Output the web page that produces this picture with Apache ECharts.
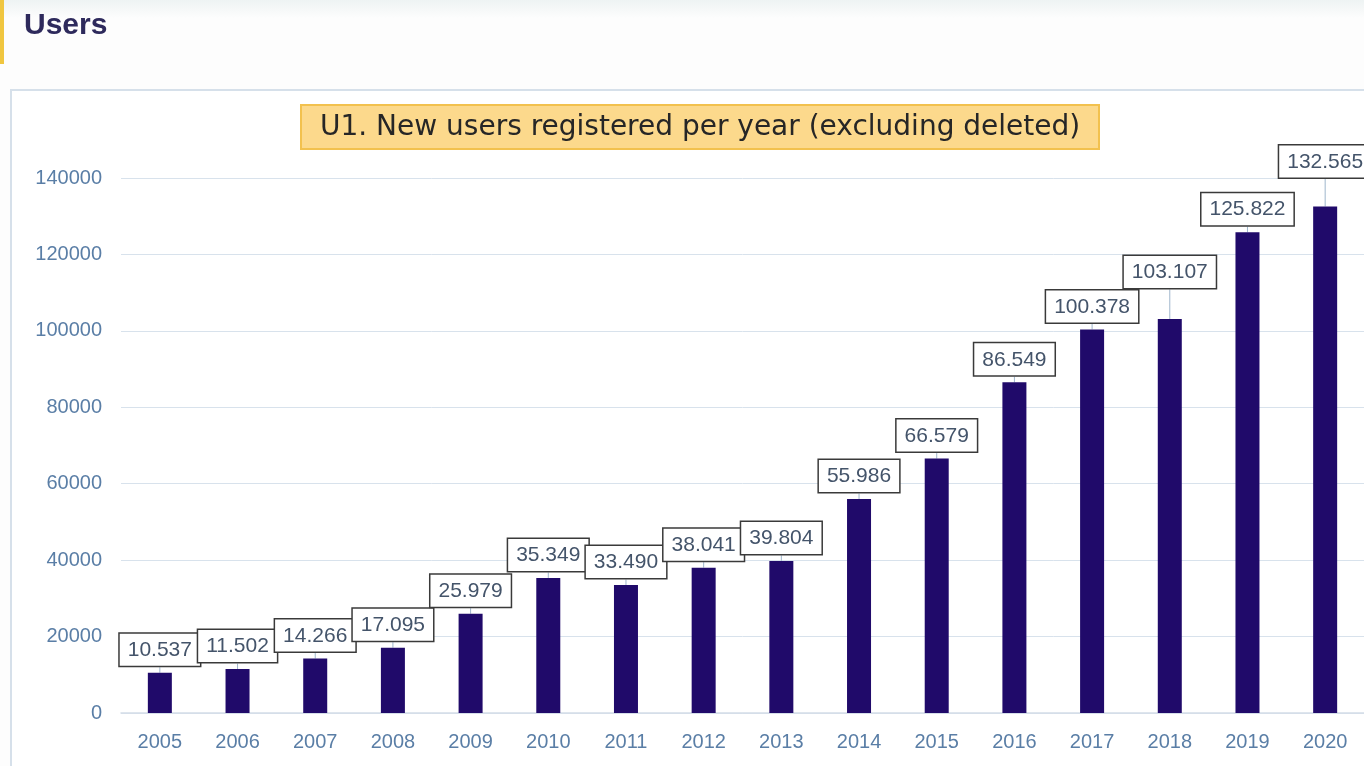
<!DOCTYPE html>
<html>
<head>
<meta charset="utf-8">
<script src="https://cdn.jsdelivr.net/npm/echarts@6/dist/echarts.min.js"></script>
<style>
html,body{margin:0;padding:0;background:#fdfdfd;}
#c{width:1364px;height:766px;}
</style>
</head>
<body>
<div id="c"></div>
<script>
var years = ['2005','2006','2007','2008','2009','2010','2011','2012','2013','2014','2015','2016','2017','2018','2019','2020'];
var newUsers = [10537,11502,14266,17095,25979,35349,33490,38041,39804,55986,66579,86549,100378,103107,125822,132565];
var yTicks = [0,20000,40000,60000,80000,100000,120000,140000];
var pageTitle = 'Users';
var chartTitle = 'U1. New users registered per year (excluding deleted)';

var labelLift = {13: -24, 15: -22};

function fmt(v){
  return String(v).replace(/\B(?=(\d{3})+(?!\d))/g, '.');
}

var chart = echarts.init(document.getElementById('c'), null, {renderer:'canvas'});
var FONT = '"Liberation Sans", Arial, sans-serif';
chart.setOption({
  backgroundColor: '#fdfdfd',
  animation: false,
  graphic: [
    {type:'rect', shape:{x:0,y:0,width:1364,height:18},
     style:{fill:new echarts.graphic.LinearGradient(0,0,0,1,[{offset:0,color:'#eef3f3'},{offset:1,color:'#fdfdfd'}])}, z:-10},
    {type:'rect', shape:{x:0,y:0,width:4,height:64}, style:{fill:'#f0c640'}, z:-5},
    {type:'rect', shape:{x:11,y:90,width:1370,height:690}, style:{fill:'#ffffff', stroke:'#d6e0ea', lineWidth:2}, z:-5}
  ],
  title: [
    {text: pageTitle, left: 19, top: 6, textStyle:{fontFamily:FONT, fontSize:30, fontWeight:'bold', color:'#2e2a5c'}},
    {text: chartTitle, left: 301, top: 105, padding:[9,19,7,19],
     backgroundColor:'#fcd98c', borderColor:'#f2c14e', borderWidth:2,
     textStyle:{fontFamily:'"DejaVu Sans", sans-serif', fontSize:28, fontWeight:'normal', color:'#262626'}}
  ],
  grid: {left:121, right:-14, top:178, bottom:53, containLabel:false},
  xAxis: {
    type:'category', data: years,
    axisLine:{show:true, lineStyle:{color:'#d3dde8', width:1.5}},
    axisTick:{show:false},
    axisLabel:{fontFamily:FONT, fontSize:20, color:'#5a7ea6', margin:19}
  },
  yAxis: {
    type:'value', min:0, max:140000, interval:20000,
    axisLine:{show:false}, axisTick:{show:false},
    axisLabel:{fontFamily:FONT, fontSize:20, color:'#5a7ea6', margin:19,
      formatter:function(v){ return yTicks.indexOf(v) >= 0 ? String(v) : ''; }},
    splitLine:{lineStyle:{color:'#d8e2ec', width:1}}
  },
  series: [{
    type:'bar', data: newUsers, barWidth:24,
    itemStyle:{color:'#200a6a'},
    label:{show:true, position:'top', distance:7,
      formatter:function(p){ return fmt(p.value); },
      fontFamily:FONT, fontSize:21, color:'#44546a',
      backgroundColor:'#ffffff', borderColor:'#3a3a3a', borderWidth:1.5,
      padding:[6,8,5,8]},
    labelLine:{show:true, lineStyle:{color:'#9fb6cc', width:1}},
    labelLayout:function(p){
      var d = labelLift[p.dataIndex];
      return d ? {dy:d} : {};
    }
  }]
});
</script>
</body>
</html>
